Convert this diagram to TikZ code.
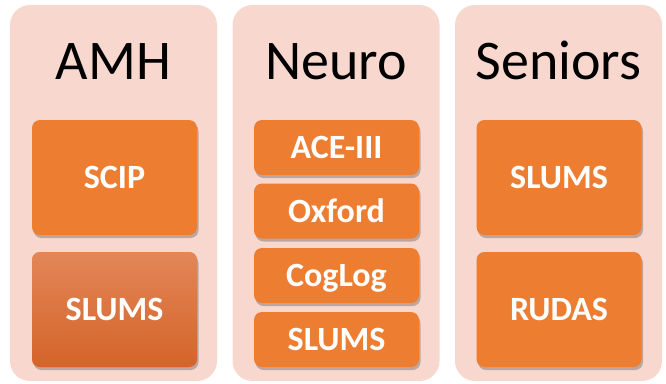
\documentclass[tikz,border=0pt]{standalone}
\usepackage{fontspec}
\setmainfont{Carlito}
\usepackage{xcolor}
\usepackage{tikz}
\usetikzlibrary{positioning,shadows}
\definecolor{panelbg}{HTML}{F8D8CE}
\definecolor{boxfill}{HTML}{ED7D31}
\definecolor{boxtop}{HTML}{E38658}
\definecolor{boxbot}{HTML}{D4642A}
\definecolor{boxtext}{HTML}{FFFFFF}
\tikzset{
  panel/.style={fill=panelbg, draw=none, rounded corners=20pt, minimum width=207pt, minimum height=376pt, inner sep=0pt},
  title/.style={text=black, font=\fontsize{56}{60}\selectfont, anchor=base, inner sep=0pt},
  testbox/.style={fill=boxfill, draw=none, rounded corners=8pt, minimum width=165pt, inner sep=0pt,
    text=boxtext, font=\bfseries\fontsize{34}{38}\selectfont, text height=22pt, text depth=0pt,
    drop shadow={shadow xshift=1.5pt, shadow yshift=-3pt, opacity=0.35, fill=black!70}},
  tallbox/.style={testbox, minimum height=115pt},
  slimbox/.style={testbox, minimum height=55pt},
  fadebox/.style={top color=boxtop, bottom color=boxbot}
}

\begin{document}
\begin{tikzpicture}[x=1pt, y=-1pt]
  \useasboundingbox[fill=white] (0,0) rectangle (666,383);

  % Panels
  \node[panel] (amh) at (113.5,193) {};
  \node[panel] (neuro) at (336,193) {};
  \node[panel] (seniors) at (558.5,193) {};

  \node[title] (amht) at (113.5,79) {AMH};
  \node[title] (neurot) at (336,79) {Neuro};
  \node[title] (seniorst) at (558.5,79) {Seniors};

  % AMH
  \node[tallbox] (scip) at (114.5,177.5) {SCIP};
  \node[tallbox, fadebox] (slumsa) at (114.5,309.5) {SLUMS};

  % Neuro
  \node[slimbox] (ace) at (336.5,147.5) {ACE-III};
  \node[slimbox] (oxford) at (336.5,211) {Oxford};
  \node[slimbox] (coglog) at (336.5,275.5) {CogLog};
  \node[slimbox] (slumsn) at (336.5,339.5) {SLUMS};

  % Seniors
  \node[tallbox] (slumss) at (559,177.5) {SLUMS};
  \node[tallbox] (rudas) at (559,309.5) {RUDAS};
\end{tikzpicture}
\end{document}
